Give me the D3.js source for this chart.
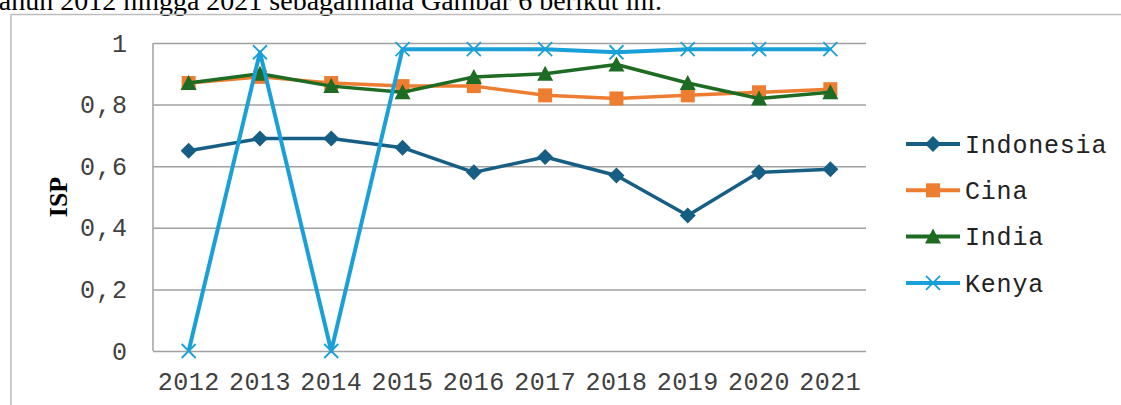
<!DOCTYPE html>
<html>
<head>
<meta charset="utf-8">
<script src="https://cdn.jsdelivr.net/npm/d3@7"></script>
<style>
body { margin: 0; background: #fff; }
svg { display: block; }
.tick text { font-family: "Liberation Mono", monospace; fill: #404040; }
</style>
</head>
<body>
<div id="chart"></div>
<script>
var svgWidth = 1121;
var svgHeight = 405;
var margin = ({top: 43, right: 255, bottom: 54, left: 153});

var years = ["2012","2013","2014","2015","2016","2017","2018","2019","2020","2021"];
var yTicks = [0, 0.2, 0.4, 0.6, 0.8, 1];
var indonesia = [0.65, 0.69, 0.69, 0.66, 0.58, 0.63, 0.57, 0.44, 0.58, 0.59];
var cina = [0.87, 0.89, 0.87, 0.86, 0.86, 0.83, 0.82, 0.83, 0.84, 0.85];
var india = [0.87, 0.90, 0.86, 0.84, 0.89, 0.90, 0.93, 0.87, 0.82, 0.84];
var kenya = [0, 0.97, 0, 0.98, 0.98, 0.98, 0.97, 0.98, 0.98, 0.98];
var names = ["Indonesia", "Cina", "India", "Kenya"];
var colors = ["#175e84", "#ed7d31", "#1e6b23", "#1aa0d8"];
var shapes = ["diamond", "square", "triangle", "cross"];

var series = [indonesia, cina, india, kenya].map((v, i) => ({name: names[i], values: v, color: colors[i], shape: shapes[i]}));

draw();
function draw(){
    var w = svgWidth - margin.left - margin.right;
    var h = svgHeight - margin.top - margin.bottom;
    var x = d3.scaleBand().domain(years).range([0, w]);
    var y = d3.scaleLinear().domain([0, 1]).range([h, 0]);

    var svg = d3.select("#chart").append("svg")
        .attr("width", svgWidth)
        .attr("height", svgHeight);

    // surrounding document text + chart frame
    svg.append("text")
        .attr("x", 662).attr("y", 10)
        .attr("text-anchor", "end")
        .style("font-family", "Liberation Serif, serif")
        .style("font-size", "28px")
        .style("fill", "#000")
        .text("tahun 2012 hingga 2021 sebagaimana Gambar 6 berikut ini.");
    svg.append("path")
        .attr("d", "M11," + svgHeight + "V14.5H" + svgWidth)
        .attr("fill", "none")
        .attr("stroke", "#bdbdbd")
        .attr("stroke-width", 1.5);

    var g = svg.append("g")
        .attr("transform", "translate(" + margin.left + "," + margin.top + ")");

    // grid
    g.append("g")
        .attr("class", "grid")
        .call(d3.axisLeft(y).tickValues(yTicks).tickSize(-w).tickFormat(""))
        .call(s => s.select(".domain").remove())
        .selectAll("line").attr("stroke", "#a0a0a0").attr("stroke-width", 1.5);
    g.append("line")
        .attr("x1", 0).attr("x2", 0).attr("y1", 0).attr("y2", h)
        .attr("stroke", "#a0a0a0").attr("stroke-width", 1.5);

    // axes labels
    var ya = g.append("g")
        .call(d3.axisLeft(y).tickValues(yTicks).tickSize(0).tickPadding(25)
            .tickFormat(d => d3.format("")(d).replace(".", ",")));
    ya.select(".domain").remove();
    ya.selectAll("text").style("font-size", "25px").style("letter-spacing", "1px");

    var xa = g.append("g")
        .attr("transform", "translate(0," + h + ")")
        .call(d3.axisBottom(x).tickSize(0).tickPadding(21));
    xa.select(".domain").remove();
    xa.selectAll("text").style("font-size", "25px").style("letter-spacing", "0.5px").attr("dy", "0.71em");

    svg.append("text")
        .attr("transform", "translate(67,197) rotate(-90)")
        .attr("text-anchor", "middle")
        .style("font-family", "Liberation Serif, serif")
        .style("font-weight", "bold")
        .style("font-size", "26px")
        .text("ISP");

    var line = d3.line()
        .x((d, i) => x(years[i]) + x.bandwidth() / 2)
        .y(d => y(d));

    var sg = g.selectAll(".series")
        .data(series)
        .enter().append("g")
        .attr("class", "series");
    sg.append("path")
        .attr("d", d => line(d.values))
        .attr("fill", "none")
        .attr("stroke", d => d.color)
        .attr("stroke-width", d => d.shape == "cross" ? 4 : 3.5)
        .attr("stroke-linejoin", "round");
    sg.each(function (s) {
        d3.select(this).selectAll(".pt")
            .data(s.values)
            .enter().append("g")
            .attr("class", "pt")
            .attr("transform", (d, i) => "translate(" + (x(years[i]) + x.bandwidth() / 2) + "," + y(d) + ")")
            .each(function () { marker(d3.select(this), s.shape, s.color); });
    });

    // legend
    var lg = svg.append("g").attr("transform", "translate(906,144)");
    var li = lg.selectAll(".legend")
        .data(series)
        .enter().append("g")
        .attr("class", "legend")
        .attr("transform", (d, i) => "translate(0," + (i * 46.3) + ")");
    li.append("line")
        .attr("x1", 0).attr("x2", 54)
        .attr("stroke", d => d.color)
        .attr("stroke-width", 4);
    li.each(function (s) {
        var m = d3.select(this).append("g").attr("transform", "translate(27,0)");
        marker(m, s.shape, s.color);
    });
    li.append("text")
        .attr("x", 59).attr("dy", "0.35em")
        .style("font-family", "Liberation Mono, monospace")
        .style("font-size", "25px")
        .style("letter-spacing", "0.8px")
        .style("fill", "#222")
        .text(d => d.name);
}

function marker(sel, shape, color) {
    if (shape == "diamond") {
        sel.append("path").attr("d", "M0,-8L8,0L0,8L-8,0Z").attr("fill", color);
    } else if (shape == "square") {
        sel.append("rect").attr("x", -7).attr("y", -7).attr("width", 14).attr("height", 14).attr("fill", color);
    } else if (shape == "triangle") {
        sel.append("path").attr("d", "M0,-8L8,7H-8Z").attr("fill", color);
    } else {
        sel.append("path").attr("d", "M-7,-7L7,7M-7,7L7,-7")
            .attr("stroke", color).attr("stroke-width", 1.8).attr("fill", "none");
    }
}
</script>
</body>
</html>
